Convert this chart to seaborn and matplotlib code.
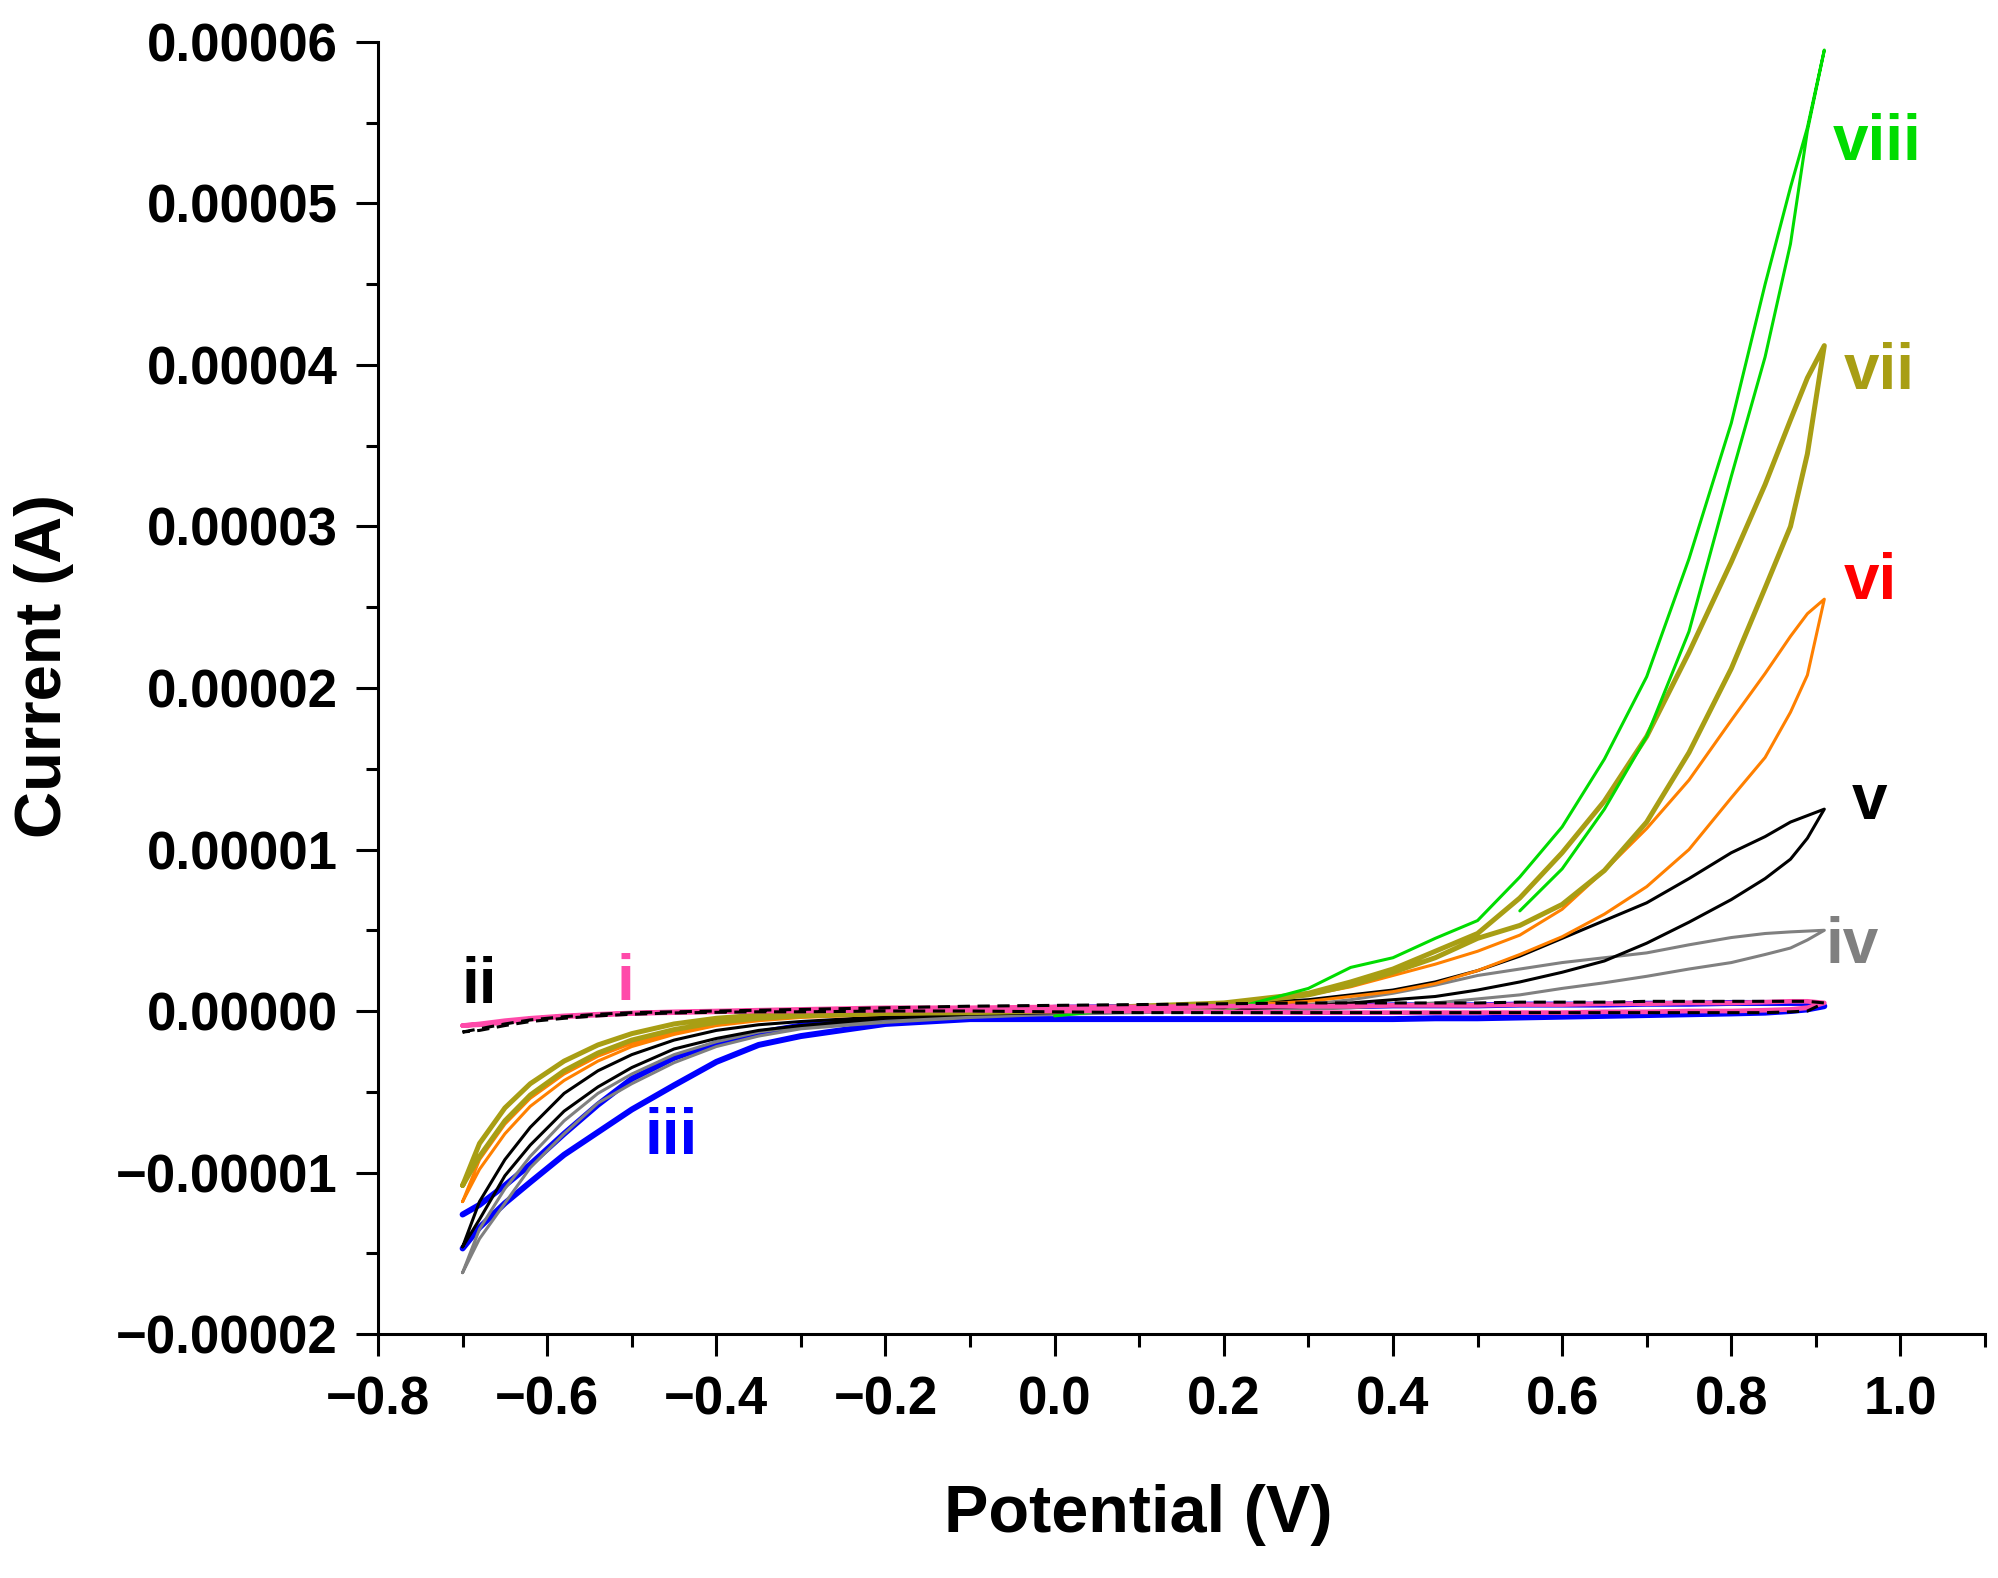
import numpy as np
import pandas as pd
import matplotlib
matplotlib.use("Agg")
import matplotlib.pyplot as plt
import seaborn as sns
from matplotlib.ticker import MultipleLocator, FuncFormatter

nan = np.nan

# potential grid (V), shared by every scan branch
E_GRID = [-0.70, -0.68, -0.65, -0.62, -0.58, -0.54, -0.50, -0.45, -0.40, -0.35, -0.30,
          -0.20, -0.10, 0.00, 0.10, 0.20, 0.30, 0.35, 0.40, 0.45, 0.50, 0.55, 0.60,
          0.65, 0.70, 0.75, 0.80, 0.84, 0.87, 0.89, 0.91]

# currents in units of 1e-5 A, forward branch then reverse branch (same grid order)
i_fwd = [-0.09, -0.08, -0.06, -0.045, -0.03, -0.02, -0.012, -0.005, 0.0, 0.005, 0.01,
         0.02, 0.02, 0.025, 0.025, 0.03, 0.03, 0.03, 0.035, 0.035, 0.035, 0.04, 0.04,
         0.045, 0.045, 0.05, 0.05, 0.055, 0.06, 0.06, 0.05]
i_rev = [-0.09, -0.085, -0.07, -0.05, -0.035, -0.025, -0.015, -0.01, -0.005, 0.0, 0.0,
         0.005, 0.005, 0.0, 0.0, -0.005, -0.01, -0.01, -0.01, -0.01, -0.01, -0.01, -0.01,
         -0.005, -0.005, 0.0, 0.0, 0.005, 0.01, 0.02, 0.05]

ii_fwd = [-0.13, -0.11, -0.08, -0.055, -0.035, -0.02, -0.01, -0.005, 0.0, 0.005, 0.01,
          0.02, 0.03, 0.035, 0.04, 0.045, 0.05, 0.05, 0.05, 0.05, 0.05, 0.055, 0.055,
          0.055, 0.06, 0.06, 0.06, 0.06, 0.06, 0.06, 0.05]
ii_rev = [-0.13, -0.12, -0.09, -0.065, -0.045, -0.03, -0.02, -0.012, -0.008, -0.005, -0.005,
          0.0, 0.0, -0.005, -0.01, -0.01, -0.01, -0.01, -0.01, -0.01, -0.01, -0.01, -0.01,
          -0.01, -0.01, -0.01, -0.01, -0.01, -0.005, 0.0, 0.05]

iii_fwd = [-1.47, -1.34, -1.19, -1.06, -0.89, -0.75, -0.61, -0.46, -0.315, -0.21, -0.155,
           -0.08, -0.05, -0.05, -0.05, -0.05, -0.05, -0.05, -0.05, -0.045, -0.045, -0.04, -0.035,
           -0.03, -0.025, -0.02, -0.015, -0.01, 0.0, 0.01, 0.03]
iii_rev = [-1.26, -1.20, -1.08, -0.95, -0.76, -0.58, -0.42, -0.29, -0.20, -0.135, -0.09,
           -0.045, -0.02, 0.02, 0.025, 0.03, 0.03, 0.03, 0.035, 0.035, 0.035, 0.04, 0.04,
           0.04, 0.045, 0.045, 0.05, 0.05, 0.05, 0.05, 0.03]

iv_fwd = [-1.62, -1.41, -1.19, -0.97, -0.76, -0.57, -0.45, -0.32, -0.22, -0.155, -0.11,
          -0.07, -0.04, -0.02, -0.01, 0.0, 0.01, 0.02, 0.035, 0.05, 0.075, 0.10, 0.14,
          0.175, 0.215, 0.26, 0.30, 0.35, 0.39, 0.44, 0.50]
iv_rev = [-1.62, -1.35, -1.10, -0.90, -0.68, -0.51, -0.39, -0.27, -0.19, -0.13, -0.095,
          -0.05, -0.025, 0.0, 0.01, 0.02, 0.04, 0.07, 0.11, 0.16, 0.22, 0.26, 0.30,
          0.33, 0.36, 0.41, 0.455, 0.48, 0.49, 0.495, 0.50]

v_fwd = [-1.46, -1.29, -1.02, -0.83, -0.62, -0.47, -0.35, -0.235, -0.17, -0.12, -0.09,
         -0.045, -0.02, -0.01, 0.0, 0.01, 0.03, 0.05, 0.07, 0.09, 0.13, 0.18, 0.24,
         0.31, 0.42, 0.55, 0.69, 0.82, 0.94, 1.07, 1.25]
v_rev = [-1.46, -1.18, -0.92, -0.72, -0.51, -0.37, -0.27, -0.18, -0.12, -0.085, -0.065,
         -0.035, -0.01, 0.01, 0.02, 0.04, 0.07, 0.10, 0.13, 0.18, 0.25, 0.34, 0.45,
         0.56, 0.67, 0.82, 0.98, 1.08, 1.17, 1.21, 1.25]

vi_fwd = [-1.18, -0.98, -0.76, -0.59, -0.43, -0.31, -0.22, -0.145, -0.09, -0.06, -0.04,
          -0.02, -0.01, 0.0, 0.01, 0.03, 0.06, 0.09, 0.12, 0.17, 0.25, 0.35, 0.46,
          0.60, 0.77, 1.00, 1.32, 1.57, 1.85, 2.08, 2.55]
vi_rev = [-1.18, -0.92, -0.70, -0.54, -0.39, -0.28, -0.20, -0.13, -0.08, -0.05, -0.03,
          -0.015, 0.0, 0.02, 0.03, 0.05, 0.10, 0.15, 0.22, 0.29, 0.37, 0.47, 0.63,
          0.87, 1.13, 1.43, 1.80, 2.09, 2.32, 2.46, 2.55]

vii_fwd = [-1.08, -0.90, -0.68, -0.52, -0.37, -0.26, -0.18, -0.115, -0.07, -0.045, -0.03,
           -0.015, -0.01, 0.0, 0.02, 0.04, 0.10, 0.16, 0.24, 0.33, 0.45, 0.53, 0.66,
           0.87, 1.17, 1.60, 2.12, 2.62, 3.00, 3.45, 4.12]
vii_rev = [-1.08, -0.82, -0.60, -0.45, -0.31, -0.21, -0.14, -0.08, -0.045, -0.025, -0.015,
           -0.005, 0.01, 0.01, 0.03, 0.05, 0.11, 0.18, 0.26, 0.37, 0.48, 0.70, 0.98,
           1.30, 1.70, 2.22, 2.78, 3.26, 3.66, 3.92, 4.12]

viii_fwd = [nan, nan, nan, nan, nan, nan, nan, nan, nan, nan, nan,
            nan, nan, -0.03, 0.02, 0.0, 0.14, 0.27, 0.33, 0.45, 0.56, 0.83, 1.14,
            1.56, 2.07, 2.80, 3.64, 4.50, 5.10, 5.47, 5.95]
viii_rev = [nan, nan, nan, nan, nan, nan, nan, nan, nan, nan, nan,
            nan, nan, nan, nan, nan, nan, nan, nan, nan, nan, 0.62, 0.88,
            1.25, 1.70, 2.35, 3.31, 4.05, 4.75, 5.45, 5.95]

labels = ["i", "ii", "iii", "iv", "v", "vi", "vii", "viii"]
label_x = [-0.508, -0.680, -0.453, 0.943, 0.963, 0.965, 0.975, 0.972]
label_y = [0.07, 0.05, -0.885, 0.30, 1.19, 2.55, 3.85, 5.27]
label_colors = ["#FF4AAA", "black", "#0000FF", "#808080", "black", "#FF0000", "#A89E14", "#00DC00"]


def loop_frame(fwd, rev):
    e = E_GRID + E_GRID[::-1]
    cur = np.array(fwd + rev[::-1], dtype=float) * 1e-5
    return pd.DataFrame({"potential": e, "current": cur}).dropna()


sns.set_theme(style="ticks")
plt.rcParams["font.family"] = ["Liberation Sans", "DejaVu Sans"]
plt.rcParams["font.weight"] = "bold"
plt.rcParams["axes.labelweight"] = "bold"
plt.rcParams["text.color"] = "black"
plt.rcParams["axes.labelcolor"] = "black"
plt.rcParams["xtick.color"] = "black"
plt.rcParams["ytick.color"] = "black"
plt.rcParams["axes.edgecolor"] = "black"

fig = plt.figure(figsize=(19.98, 15.78), dpi=100)
ax = fig.add_axes([0.1892, 0.1546, 0.8043, 0.8188])

# drawing order follows the reference overlap
curves = [
    (iii_fwd, iii_rev, "#0000FF", 4.3, "-"),
    (iv_fwd, iv_rev, "#808080", 2.2, "-"),
    (v_fwd, v_rev, "black", 2.2, "-"),
    (vi_fwd, vi_rev, "#FF8000", 2.2, "-"),
    (vii_fwd, vii_rev, "#A89E14", 3.6, "-"),
    (viii_fwd, viii_rev, "#00DC00", 2.2, "-"),
    (i_fwd, i_rev, "#FF4AAA", 3.4, "-"),
    (ii_fwd, ii_rev, "black", 2.2, (0, (4, 2.5))),
]
for fwd, rev, col, lw, ls in curves:
    sns.lineplot(data=loop_frame(fwd, rev), x="potential", y="current", sort=False,
                 estimator=None, color=col, lw=lw, ls=ls, ax=ax, legend=False)

for lab, x, y, c in zip(labels, label_x, label_y, label_colors):
    ax.text(x, y * 1e-5, lab, color=c, fontsize=46, fontweight="bold",
            ha="center", va="baseline")

ax.set_xlim(-0.8, 1.1)
ax.set_ylim(-2e-5, 6e-5)
ax.xaxis.set_major_locator(MultipleLocator(0.2))
ax.xaxis.set_minor_locator(MultipleLocator(0.1))
ax.yaxis.set_major_locator(MultipleLocator(1e-5))
ax.yaxis.set_minor_locator(MultipleLocator(0.5e-5))


def fmt_x(v, pos):
    if abs(v) < 1e-9:
        v = 0.0
    return f"{v:.1f}".replace("-", "\u2212")


def fmt_y(v, pos):
    if abs(v) < 1e-12:
        v = 0.0
    return f"{v:.5f}".replace("-", "\u2212")


ax.xaxis.set_major_formatter(FuncFormatter(fmt_x))
ax.yaxis.set_major_formatter(FuncFormatter(fmt_y))

ax.tick_params(which="major", direction="out", length=16, width=2.2, labelsize=38, pad=13,
               colors="black")
ax.tick_params(which="minor", direction="out", length=9, width=2.2, colors="black")
ax.tick_params(axis="x", which="major", pad=14)
for lbl in ax.get_xticklabels() + ax.get_yticklabels():
    lbl.set_fontweight("bold")

sns.despine(ax=ax)
for side in ["left", "bottom"]:
    ax.spines[side].set_linewidth(2.2)
    ax.spines[side].set_color("black")

ax.set_xlabel("Potential (V)", fontsize=48, fontweight="bold", color="black")
ax.set_ylabel("Current (A)", fontsize=47, fontweight="bold", color="black")
ax.xaxis.set_label_coords(0.473, -0.116)
ax.yaxis.set_label_coords(-0.189, 0.517)

fig.savefig("out.png", dpi=100, facecolor="white")
